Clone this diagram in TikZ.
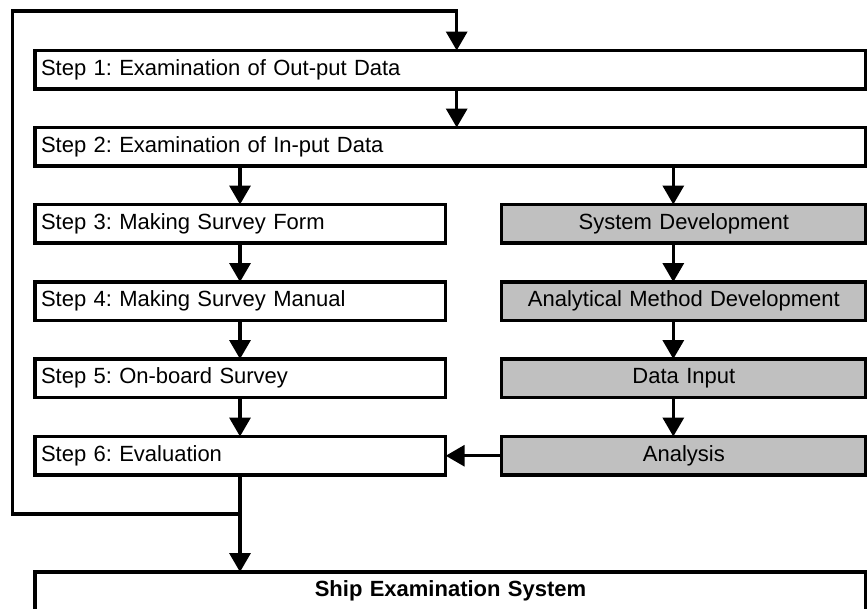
\documentclass[tikz,border=0pt]{standalone}
\usepackage{fontspec}
\setmainfont{Liberation Sans}
\usetikzlibrary{arrows.meta}
\definecolor{boxgray}{RGB}{192,192,192}
\frenchspacing
\begin{document}
\begin{tikzpicture}[x=1pt,y=-1pt,
  basebox/.style={draw, line width=3.4pt, rectangle, anchor=north west,
    minimum height=38.5pt, inner xsep=6pt, inner ysep=0pt, outer sep=0pt,
    font=\fontsize{22}{26}\selectfont},
  widebox/.style={basebox, text width=819pt, align=left},
  narrowbox/.style={basebox, text width=398.7pt, align=left},
  graybox/.style={basebox, fill=boxgray, text width=352.3pt, align=center},
  shipbox/.style={basebox, text width=819pt, align=center, font=\fontsize{22}{26}\selectfont\bfseries},
  conn/.style={line width=3.4pt, -{Triangle[width=21pt,length=19pt]}}]
\useasboundingbox (0,0) rectangle (867,608);

\node[widebox] (s1) at (35,50.5) {Step 1: Examination of Out-put Data};
\node[widebox] (s2) at (35,127.5) {Step 2: Examination of In-put Data};
\node[narrowbox] (s3) at (35,204.5) {Step 3: Making Survey Form};
\node[narrowbox] (s4) at (35,282) {Step 4: Making Survey Manual};
\node[narrowbox] (s5) at (35,359) {Step 5: On-board Survey};
\node[narrowbox] (s6) at (35,436.5) {Step 6: Evaluation};
\node[graybox] (g1) at (501.7,204.5) {System Development};
\node[graybox] (g2) at (501.7,282) {Analytical Method Development};
\node[graybox] (g3) at (501.7,359) {Data Input};
\node[graybox] (g4) at (501.7,436.5) {Analysis};
\node[shipbox] (ship) at (35,572) {Ship Examination System};

\coordinate (ta) at (456.7,11);
\coordinate (tl) at (12.7,11);
\coordinate (bl) at (12.7,514);
\coordinate (xl) at (240,514);
\coordinate (xr) at (673.3,0);

\draw[conn] (xl) -- (bl) -- (tl) -- (ta) -- (s1.north -| ta);
\draw[conn] (s1.south -| ta) -- (s2.north -| ta);
\draw[conn] (s2.south -| xl) -- (s3.north -| xl);
\draw[conn] (s3.south -| xl) -- (s4.north -| xl);
\draw[conn] (s4.south -| xl) -- (s5.north -| xl);
\draw[conn] (s5.south -| xl) -- (s6.north -| xl);
\draw[conn] (s6.south -| xl) -- (ship.north -| xl);
\draw[conn] (s2.south -| xr) -- (g1.north -| xr);
\draw[conn] (g1.south -| xr) -- (g2.north -| xr);
\draw[conn] (g2.south -| xr) -- (g3.north -| xr);
\draw[conn] (g3.south -| xr) -- (g4.north -| xr);
\draw[conn] (g4.west) -- (s6.east);
\end{tikzpicture}
\end{document}
